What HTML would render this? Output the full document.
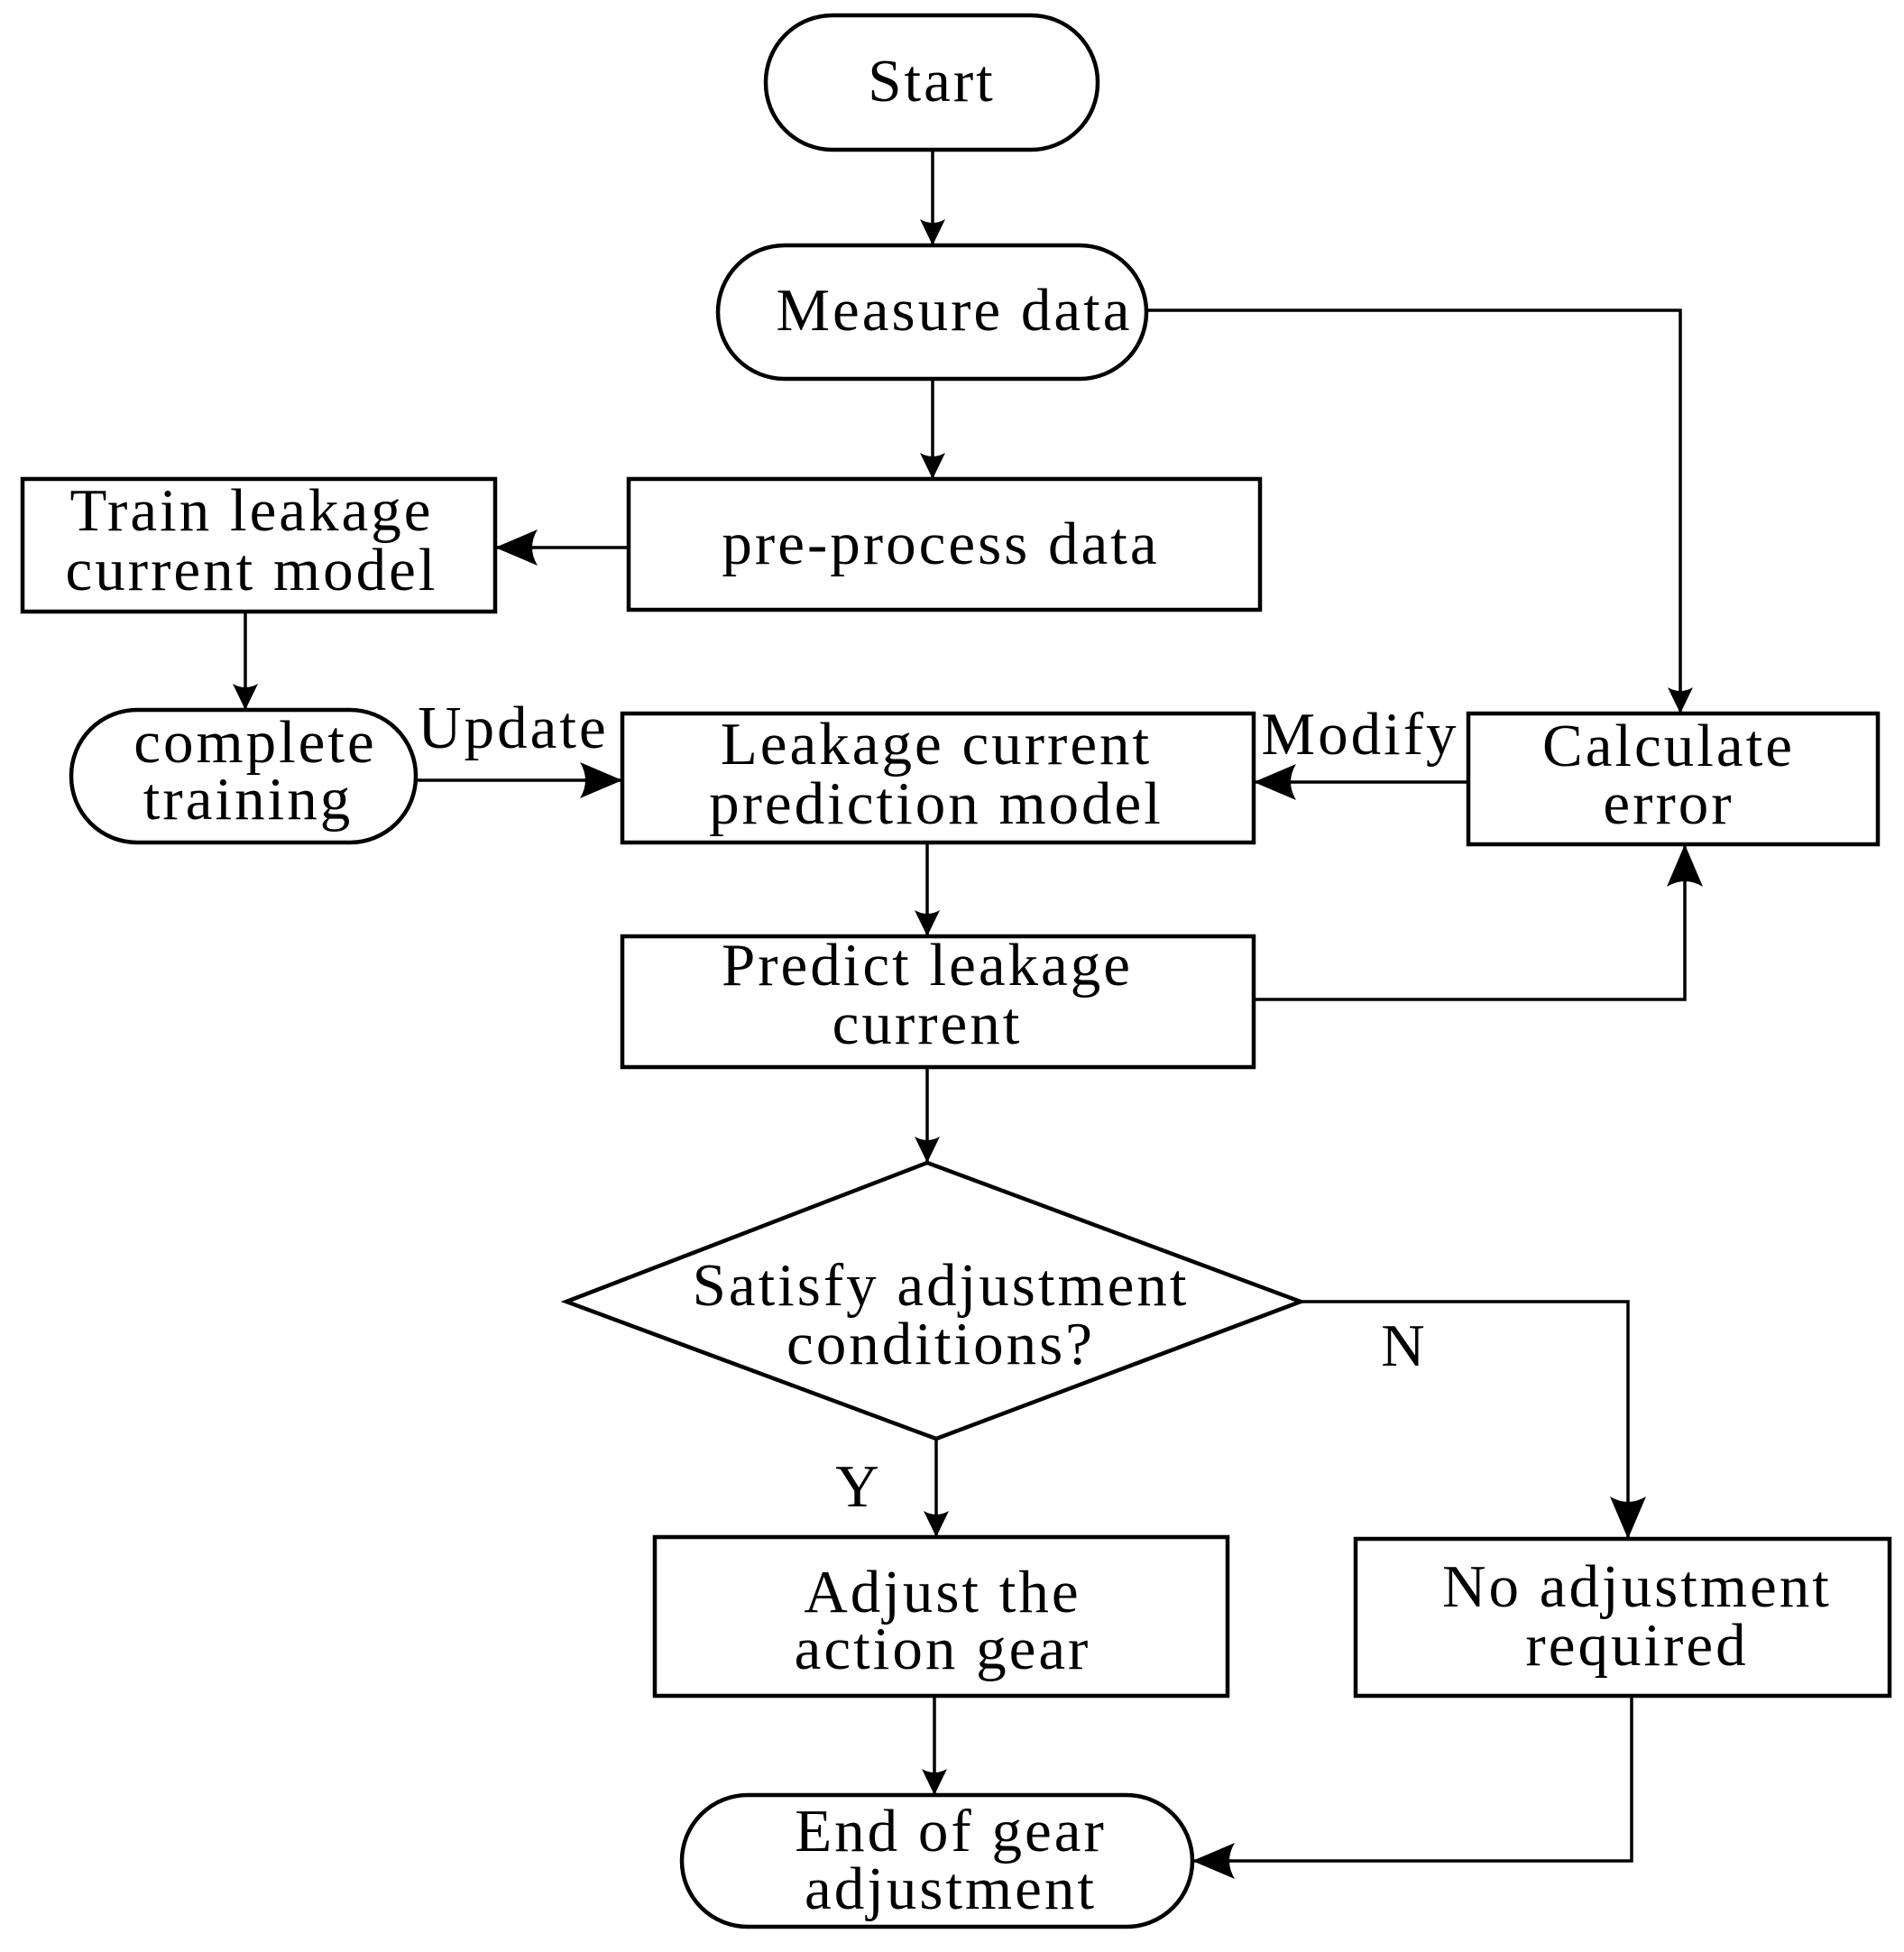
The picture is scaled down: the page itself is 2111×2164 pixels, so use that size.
<!DOCTYPE html>
<html><head><meta charset="utf-8"><style>
html,body{margin:0;padding:0;background:#fff}
svg{display:block}
text{font-family:"Liberation Serif",serif;font-size:67px;fill:#000;text-anchor:middle;letter-spacing:3px}
</style></head><body>
<svg width="2111" height="2164" viewBox="0 0 2111 2164" xmlns="http://www.w3.org/2000/svg">
<defs>
<marker id="a" markerWidth="48" markerHeight="40" refX="47" refY="20" orient="auto" markerUnits="userSpaceOnUse">
<path d="M0,0 L47,20 L0,40 Q12,20 0,0 Z" fill="#000"/>
</marker>
<marker id="s" markerWidth="30" markerHeight="28" refX="29" refY="14" orient="auto" markerUnits="userSpaceOnUse">
<path d="M0,0 L29,14 L0,28 Q8,14 0,0 Z" fill="#000"/>
</marker>
</defs>
<g fill="none" stroke="#000" stroke-width="4.5">
<rect x="849" y="17" width="368" height="149" rx="74"/>
<rect x="796" y="272" width="475" height="148" rx="74"/>
<rect x="697" y="531" width="700" height="145"/>
<rect x="25" y="531" width="524" height="147"/>
<rect x="79" y="787" width="382" height="147" rx="73"/>
<rect x="690" y="791" width="700" height="143"/>
<rect x="1628" y="791" width="454" height="145"/>
<rect x="690" y="1038" width="700" height="145"/>
<polygon points="628,1443 1028,1289 1442,1443 1038,1595"/>
<rect x="726" y="1704" width="635" height="176"/>
<rect x="1503" y="1706" width="592" height="174"/>
<rect x="756" y="1990" width="566" height="146" rx="73"/>
</g>
<g fill="none" stroke="#000" stroke-width="3.5">
<line x1="1034" y1="166" x2="1034" y2="272" marker-end="url(#s)"/>
<polyline points="1271,344 1863,344 1863,791" marker-end="url(#s)"/>
<line x1="1034" y1="420" x2="1034" y2="531" marker-end="url(#s)"/>
<line x1="697" y1="607" x2="549" y2="607" marker-end="url(#a)"/>
<line x1="272" y1="678" x2="272" y2="787" marker-end="url(#s)"/>
<line x1="461" y1="865" x2="690" y2="865" marker-end="url(#a)"/>
<line x1="1628" y1="867" x2="1390" y2="867" marker-end="url(#a)"/>
<line x1="1028" y1="934" x2="1028" y2="1038" marker-end="url(#s)"/>
<polyline points="1390,1108 1868,1108 1868,936" marker-end="url(#a)"/>
<line x1="1028" y1="1183" x2="1028" y2="1289" marker-end="url(#s)"/>
<line x1="1038" y1="1595" x2="1038" y2="1704" marker-end="url(#s)"/>
<polyline points="1442,1443 1805,1443 1805,1706" marker-end="url(#a)"/>
<line x1="1036" y1="1880" x2="1036" y2="1990" marker-end="url(#s)"/>
<polyline points="1809,1880 1809,2063 1322,2063" marker-end="url(#a)"/>
</g>
<text x="1033" y="112">Start</text>
<text x="1058" y="366">Measure data</text>
<text x="1043" y="625">pre-process data</text>
<text x="279" y="588">Train leakage</text>
<text x="279" y="654">current model</text>
<text x="283" y="845">complete</text>
<text x="275" y="908">training</text>
<text x="1038" y="847">Leakage current</text>
<text x="1038" y="913">prediction model</text>
<text x="1850" y="849">Calculate</text>
<text x="1850" y="913">error</text>
<text x="1028" y="1092">Predict leakage</text>
<text x="1028" y="1157">current</text>
<text x="1043" y="1447">Satisfy adjustment</text>
<text x="1043" y="1512">conditions?</text>
<text x="1045" y="1787">Adjust the</text>
<text x="1045" y="1850">action gear</text>
<text x="1815" y="1781">No adjustment</text>
<text x="1815" y="1846">required</text>
<text x="1054" y="2052">End of gear</text>
<text x="1054" y="2116">adjustment</text>
<text x="569" y="829">Update</text>
<text x="1508" y="836">Modify</text>
<text x="1557" y="1514">N</text>
<text x="952" y="1670">Y</text>
</svg>
</body></html>
